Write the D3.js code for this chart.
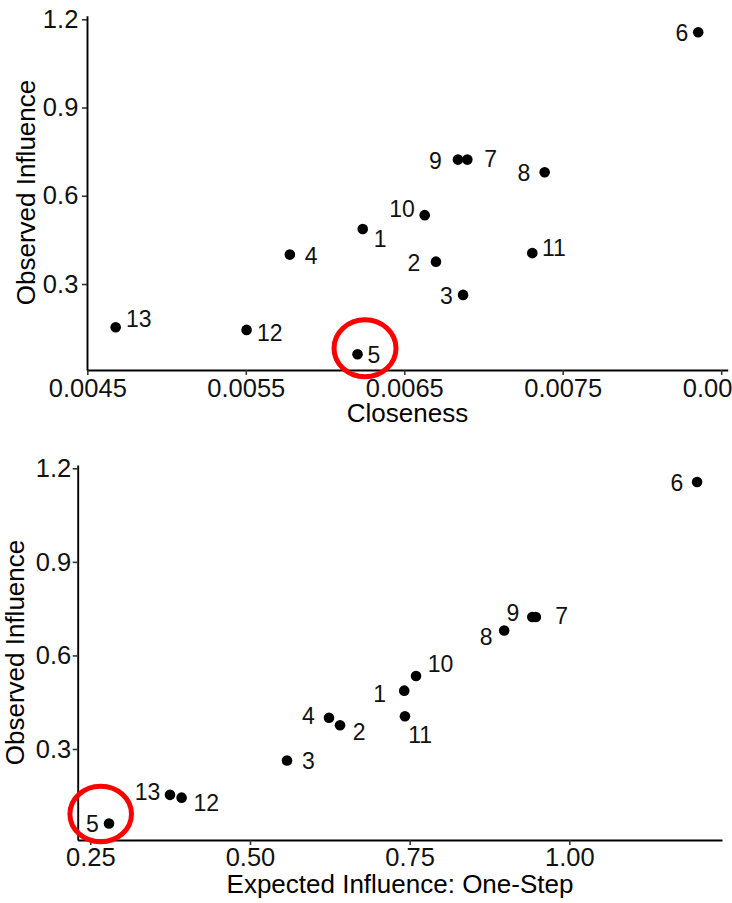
<!DOCTYPE html>
<html>
<head>
<meta charset="utf-8">
<script src="https://cdn.jsdelivr.net/npm/d3@7"></script>
<style>
  html, body { margin: 0; padding: 0; background: #fff; }
  svg { display: block; font-family: "Liberation Sans", Arial, sans-serif; }
</style>
</head>
<body>
<svg id="chart" width="732" height="903"></svg>
<script>
// Node identifiers
const nodes = ["1", "2", "3", "4", "5", "6", "7", "8", "9", "10", "11", "12", "13"];

// Centrality measures per node
const closeness = [0.006238, 0.006700, 0.006871, 0.005778, 0.006205, 0.008355, 0.006898,
                   0.007386, 0.006839, 0.006629, 0.007308, 0.005505, 0.004679];
const expectedInfluence = [0.7415, 0.641, 0.558, 0.6237, 0.2793, 1.200, 0.9476,
                           0.898, 0.942, 0.760, 0.7426, 0.393, 0.3748];
const observedInfluence = [0.487, 0.376, 0.263, 0.400, 0.061, 1.156, 0.723,
                           0.680, 0.723, 0.534, 0.405, 0.144, 0.153];

// Axis ticks
const closenessTicks = [0.0045, 0.0055, 0.0065, 0.0075, 0.0085];
const expectedTicks = [0.25, 0.50, 0.75, 1.00];
const observedTicks = [0.3, 0.6, 0.9, 1.2];

// Node highlighted with a red ring in both panels
const highlightNode = "5";

// Label placement (pixel nudges from each point, repel-style)
const labelNudgeTop = {
  "1": [17.5, 10], "2": [-22, 1], "3": [-16.6, 1.3], "4": [21.2, 1.6], "5": [16.5, 0],
  "6": [-16.4, 0], "7": [23.3, -0.5], "8": [-20.7, 0.5], "9": [-22.6, 1.5],
  "10": [-22.7, -6], "11": [21.6, -5.3], "12": [23.3, 2.5], "13": [23.1, -9]
};
const labelNudgeBottom = {
  "1": [-24.5, 3], "2": [19, 6], "3": [21.5, 0.2], "4": [-20.7, -2.4], "5": [-16.5, 0],
  "6": [-20.2, 0.3], "7": [25.7, -1], "8": [-18, 6], "9": [-19.5, -4],
  "10": [24.5, -12], "11": [15.2, 18.5], "12": [24.6, 4.8], "13": [-22.5, -2.7]
};

const svg = d3.select("#chart");

const panels = [
  {
    xValues: closeness, xTicks: closenessTicks, xFormat: d3.format(".4f"),
    xDomain: [0.004498, 0.008541], xRange: [87, 727.7],
    yDomain: [0.0076, 1.2122], yRange: [370, 15.7],
    xTitle: "Closeness", nudge: labelNudgeTop,
    xPad: 4.3, yPad: 3.7,
    xTitlePos: [407.5, 422], yTitlePos: [35, 192.5],
    ring: { dx: 7.5, dy: -6, rx: 31, ry: 28.5 }
  },
  {
    xValues: expectedInfluence, xTicks: expectedTicks, xFormat: d3.format(".2f"),
    xDomain: [0.2303, 1.239], xRange: [77.7, 722],
    yDomain: [0.0082, 1.2106], yRange: [840, 465],
    xTitle: "Expected Influence: One-Step", nudge: labelNudgeBottom,
    xPad: 3, yPad: 1.5,
    xTitlePos: [400, 893], yTitlePos: [23.5, 652.5],
    ring: { dx: -8.3, dy: -9.6, rx: 30.8, ry: 27.8 }
  }
];

panels.forEach(p => {
  const x = d3.scaleLinear().domain(p.xDomain).range(p.xRange);
  const y = d3.scaleLinear().domain(p.yDomain).range(p.yRange);
  const g = svg.append("g");

  const points = nodes.map((n, i) => ({ node: n, x: p.xValues[i], y: observedInfluence[i] }));

  // Axes
  const xAxis = g.append("g")
    .attr("transform", `translate(0,${p.yRange[0]})`)
    .call(d3.axisBottom(x).tickValues(p.xTicks).tickFormat(p.xFormat)
      .tickSize(5).tickPadding(p.xPad).tickSizeOuter(0));
  const yAxis = g.append("g")
    .attr("transform", `translate(${p.xRange[0]},0)`)
    .call(d3.axisLeft(y).tickValues(p.yTicks || observedTicks).tickFormat(d3.format(".1f"))
      .tickSize(5).tickPadding(p.yPad).tickSizeOuter(0));

  [xAxis, yAxis].forEach(a => {
    a.select(".domain").attr("stroke", "#000").attr("stroke-width", 1.9);
    a.selectAll(".tick line").attr("stroke", "#333").attr("stroke-width", 1.6);
    a.selectAll(".tick text").attr("fill", "#111")
      .attr("font-size", 25.5).attr("font-family", "Liberation Sans, Arial, sans-serif");
  });

  // Axis titles
  g.append("text")
    .attr("x", p.xTitlePos[0]).attr("y", p.xTitlePos[1])
    .attr("text-anchor", "middle").attr("font-size", 26).attr("fill", "#000")
    .text(p.xTitle);
  g.append("text")
    .attr("transform", `translate(${p.yTitlePos[0]},${p.yTitlePos[1]}) rotate(-90)`)
    .attr("text-anchor", "middle").attr("font-size", 26).attr("fill", "#000")
    .text("Observed Influence");

  // Points
  g.selectAll("circle.pt").data(points).join("circle")
    .attr("class", "pt")
    .attr("cx", d => x(d.x)).attr("cy", d => y(d.y))
    .attr("r", 5.3).attr("fill", "#000");

  // Node labels
  g.selectAll("text.lbl").data(points).join("text")
    .attr("class", "lbl")
    .attr("x", d => x(d.x) + p.nudge[d.node][0])
    .attr("y", d => y(d.y) + p.nudge[d.node][1])
    .attr("dy", "0.36em")
    .attr("text-anchor", "middle").attr("font-size", 23).attr("fill", "#111")
    .text(d => d.node);

  // Red ring around the highlighted node
  const h = points.find(d => d.node === highlightNode);
  g.append("ellipse")
    .attr("cx", x(h.x) + p.ring.dx).attr("cy", y(h.y) + p.ring.dy)
    .attr("rx", p.ring.rx).attr("ry", p.ring.ry)
    .attr("fill", "none").attr("stroke", "#ff0000").attr("stroke-width", 5);
});
</script>
</body>
</html>
